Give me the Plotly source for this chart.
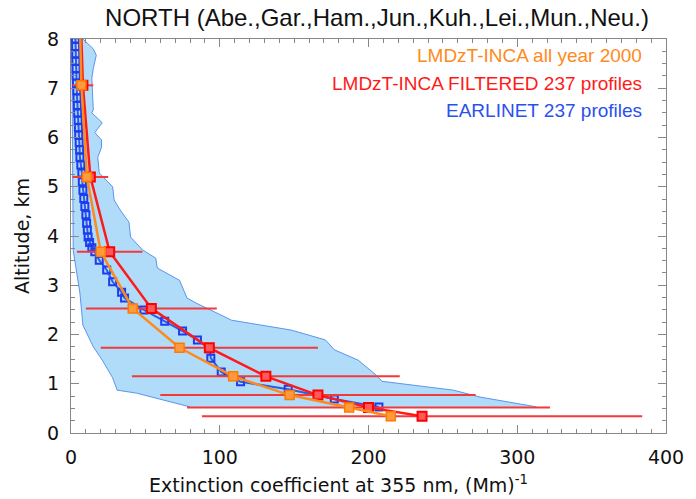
import plotly.graph_objects as go

# EARLINET mean profile (altitude km, extinction Mm^-1)
earl_alt = [0.53, 0.69, 0.89, 1.04, 1.24, 1.52, 1.71, 1.89, 2.07, 2.27, 2.50, 2.74,
            2.86, 3.07, 3.31, 3.51, 3.68, 3.76, 3.87, 3.98, 4.12, 4.26, 4.43, 4.60,
            4.76, 4.93, 5.10, 5.28, 5.44, 5.60, 5.75, 5.90, 6.05, 6.20, 6.35, 6.50,
            6.65, 6.80, 6.95, 7.10, 7.25, 7.40, 7.55, 7.70, 7.85, 8.00]
earl_ext = [207, 177, 146, 114, 101, 94, 93, 85, 75, 63, 49, 36,
            34, 28, 24, 19, 16, 14, 12.5, 11.5, 11, 10.5, 10, 9.3,
            8.6, 8, 7.6, 7.3, 6.6, 6, 5.8, 5.5, 5.2, 5, 4.8, 4.5,
            4.3, 4.1, 3.9, 3.7, 3.5, 3.4, 3.3, 3.2, 3.1, 3.0]

# EARLINET envelope: maximum and minimum profiles
env_max_alt = [0.53, 0.73, 0.87, 0.97, 1.05, 1.18, 1.48, 1.69, 1.89, 2.09, 2.23, 2.29,
               2.64, 2.74, 3.10, 3.35, 3.55, 3.72, 3.98, 4.28, 4.53, 4.73, 5.00, 5.28,
               5.60, 5.80, 5.95, 6.10, 6.30, 6.50, 6.56, 7.20, 7.40, 7.67, 7.80, 8.00]
env_max_ext = [313, 275, 257, 231, 209, 205, 193, 177, 171, 148, 119, 108,
               84, 78, 73, 58, 57, 48, 40, 39, 33, 29, 28, 19,
               18, 20.5, 20.5, 16, 21, 14, 15, 14, 15, 17, 15, 8]
env_min_alt = [8.00, 6.00, 4.50, 3.70, 2.84, 2.19, 1.75, 1.48, 1.12, 0.87, 0.81, 0.53]
env_min_ext = [0.5, 1.0, 1.2, 1.5, 6, 8, 15, 21, 28, 31, 44, 80]

# LMDzT-INCA model levels
model_alt = [0.34, 0.52, 0.77, 1.15, 1.73, 2.53, 3.68, 5.20, 7.06, 8.90]
filt_ext = [236, 200, 166, 131, 93, 54, 26, 13, 8, 6]
filt_err = [148, 122, 106, 90, 73, 44, 22, 12, 7, 0]
year_ext = [215, 187, 147, 109, 73, 41.5, 20, 10.7, 7, 5.5]

X0, X1, Y0, Y1 = 71, 670, 39, 433   # plot area in pixels

fig = go.Figure()

# shaded min/max envelope
fig.add_trace(go.Scatter(
    x=env_max_ext + env_min_ext, y=env_max_alt + env_min_alt,
    mode="lines", fill="toself", fillcolor="#b0dbf9",
    line=dict(color="#5a95ee", width=1), hoverinfo="skip", showlegend=False))

# EARLINET profile
fig.add_trace(go.Scatter(
    x=earl_ext, y=earl_alt, mode="lines+markers",
    line=dict(color="#2a5de8", width=2),
    marker=dict(symbol="square-open", size=7, color="#1d3cf0", line=dict(width=2)),
    showlegend=False))

# filtered model profile with spread
fig.add_trace(go.Scatter(
    x=filt_ext, y=model_alt, mode="lines+markers",
    line=dict(color="#ff1a1a", width=2.5),
    marker=dict(symbol="square", size=9, color="#ff5a5a",
                line=dict(color="#ff0000", width=2)),
    error_x=dict(type="data", array=filt_err, color="#f23a3a", thickness=2, width=0),
    showlegend=False))

# all-year model profile
fig.add_trace(go.Scatter(
    x=year_ext, y=model_alt, mode="lines+markers",
    line=dict(color="#ff8a1c", width=2.5),
    marker=dict(symbol="square", size=9, color="#ff9a40",
                line=dict(color="#ff7a00", width=1.5)),
    showlegend=False))

tick_font = dict(family="DejaVu Sans", size=19, color="#111")
axis_common = dict(showline=True, linecolor="#888", linewidth=1, mirror="allticks",
                   ticks="inside", ticklen=8, tickcolor="#888", showgrid=False,
                   zeroline=False, tickfont=tick_font, ticklabelstandoff=7)

fig.update_xaxes(range=[0, 400], tickvals=[0, 100, 200, 300, 400],
                 minor=dict(dtick=10, ticks="inside", ticklen=4, tickcolor="#888"),
                 **axis_common)
fig.update_yaxes(range=[0, 8], dtick=1,
                 minor=dict(dtick=0.25, ticks="inside", ticklen=4, tickcolor="#888"),
                 title=dict(text="Altitude, km",
                            font=dict(family="DejaVu Sans", size=19, color="#111"),
                            standoff=12),
                 **axis_common)

# x-axis title
fig.add_annotation(text="Extinction coefficient at 355 nm, (Mm)<sup>-1</sup>",
                   xref="paper", yref="paper",
                   x=(340 - X0) / (X1 - X0), y=-(484 - Y1) / (Y1 - Y0),
                   xanchor="center", yanchor="middle", showarrow=False,
                   font=dict(family="DejaVu Sans", size=19, color="#111"))

labels = [("LMDzT-INCA all year 2000", "#ff8a1c", 56),
          ("LMDzT-INCA FILTERED 237 profiles", "#ff1a1a", 83),
          ("EARLINET 237 profiles", "#2a50f0", 110)]
for text, col, py in labels:
    fig.add_annotation(text=text, xref="paper", yref="paper",
                       x=(648 - X0) / (X1 - X0), y=(Y1 - py) / (Y1 - Y0),
                       xanchor="right", yanchor="middle", showarrow=False,
                       font=dict(family="Liberation Sans", size=19, color=col))

fig.update_layout(
    width=696, height=499,
    margin=dict(l=X0, r=696 - X1, t=Y0, b=499 - Y1),
    paper_bgcolor="white", plot_bgcolor="white",
    title=dict(text="NORTH (Abe.,Gar.,Ham.,Jun.,Kuh.,Lei.,Mun.,Neu.)",
               font=dict(family="Liberation Sans", size=24, color="#111"),
               x=377 / 696, xanchor="center", y=1 - 18 / 499, yanchor="middle"),
)

fig.write_html("out.html")
